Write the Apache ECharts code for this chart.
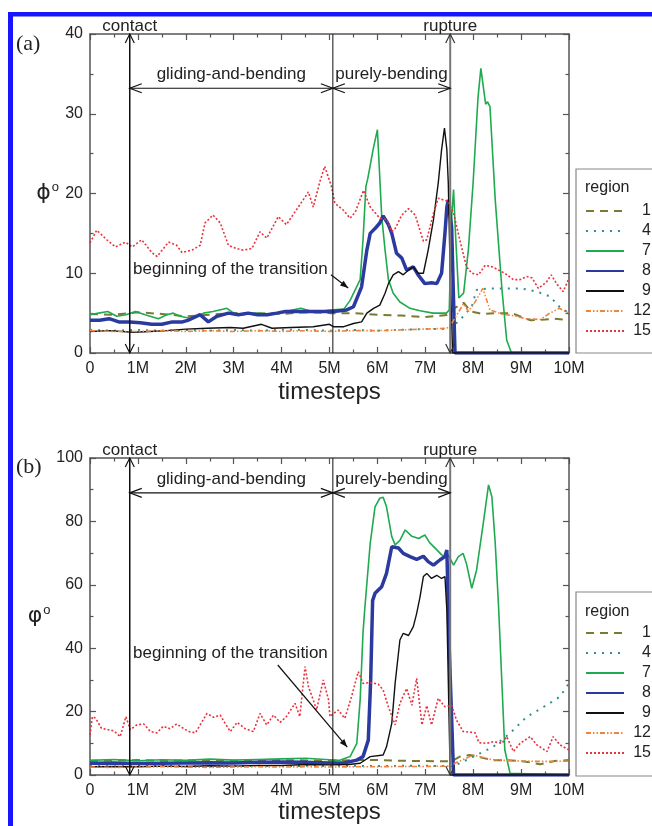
<!DOCTYPE html>
<html>
<head>
<meta charset="utf-8">
<title>phi vs timesteps</title>
<script src="https://cdn.jsdelivr.net/npm/echarts@6/dist/echarts.min.js"></script>
<style>
  html, body { margin: 0; padding: 0; background: #fff; }
  #main { width: 652px; height: 826px; }
</style>
</head>
<body>
<div id="main"></div>
<script>
// regions shown in the legend
var regions = ['1', '4', '7', '8', '9', '12', '15'];

// panel (a): phi, [timestep in M, degrees]
var a1 = [[0,4.9],[0.5,4.8],[1,5.1],[1.5,4.9],[2,4.6],[2.5,4.8],[3,5.0],[3.5,5.0],[4,4.9],[4.5,5.1],[5,5.0],[5.5,5.0],[6,4.8],[6.5,4.7],[7,4.5],[7.5,4.8],[7.6,5.6],[7.8,6.3],[7.95,5.2],[8.2,4.9],[8.5,5.0],[8.8,5.0],[9.2,4.1],[9.5,4.2],[9.7,4.3],[10,4.1]];
var a4 = [[0,2.9],[0.5,2.8],[1,2.9],[1.5,2.8],[2,2.9],[2.5,2.8],[3,2.9],[3.5,2.8],[4,2.9],[4.5,2.9],[5,2.8],[5.5,2.9],[6,2.8],[6.5,2.9],[7,3.0],[7.5,3.0],[7.72,4.1],[7.85,5.0],[7.97,5.8],[8.07,7.9],[8.3,8.1],[8.6,8.1],[9.0,8.1],[9.33,7.7],[9.6,7.1],[9.8,5.8],[10,5.0]];
var a7 = [[0,4.8],[0.18,5.0],[0.37,5.2],[0.56,4.6],[0.75,4.8],[0.95,5.2],[1.15,4.8],[1.43,4.3],[1.6,4.8],[1.74,5.0],[1.88,4.6],[2.13,4.3],[2.37,5.0],[2.57,5.2],[2.86,5.6],[3.0,5.0],[3.2,4.8],[3.45,5.0],[3.7,4.9],[4.0,5.1],[4.4,5.6],[4.7,5.1],[5.0,5.4],[5.3,5.5],[5.43,6.6],[5.64,9.2],[5.7,14.2],[5.76,20.9],[5.8,21.9],[5.91,25.5],[6.0,28.0],[6.09,17.1],[6.16,12.9],[6.23,9.2],[6.33,7.5],[6.47,6.4],[6.68,5.6],[6.89,5.3],[7.16,5.0],[7.44,5.0],[7.5,5.4],[7.55,17.0],[7.59,20.5],[7.63,15.0],[7.7,6.9],[7.8,7.5],[7.9,13.0],[8.0,21.5],[8.1,32.0],[8.16,35.7],[8.22,33.0],[8.26,31.2],[8.3,31.5],[8.35,30.9],[8.46,19.2],[8.6,8.0],[8.7,1.6],[8.8,0],[10,0]];
var a8 = [[0,4.1],[0.2,4.1],[0.4,4.3],[0.6,3.9],[0.83,3.9],[1.05,3.8],[1.29,3.6],[1.5,3.6],[1.72,3.9],[1.93,3.9],[2.04,4.1],[2.3,4.8],[2.47,3.9],[2.65,4.6],[2.89,5.0],[3.1,4.8],[3.3,5.0],[3.5,4.8],[3.7,4.8],[3.9,5.0],[4.08,5.2],[4.3,5.2],[4.6,5.2],[5.08,5.2],[5.36,5.4],[5.5,5.8],[5.67,8.3],[5.78,12.9],[5.85,15.0],[5.95,15.6],[6.05,16.3],[6.12,17.2],[6.23,16.1],[6.3,15.0],[6.4,12.5],[6.51,11.9],[6.61,10.4],[6.75,10.8],[6.85,9.8],[6.99,8.7],[7.13,8.8],[7.24,8.7],[7.34,10.0],[7.41,15.0],[7.45,18.3],[7.48,19.2],[7.55,15.8],[7.59,6.6],[7.62,0],[10,0]];
var a9 = [[0,2.7],[0.4,2.8],[0.9,2.6],[1.25,2.7],[1.6,2.8],[2.0,3.0],[2.45,3.1],[2.93,3.2],[3.2,3.1],[3.58,3.6],[3.8,3.1],[4.2,3.2],[4.66,3.3],[5.0,3.6],[5.08,3.3],[5.3,3.3],[5.5,3.7],[5.67,3.9],[5.78,5.0],[5.92,5.6],[6.05,6.0],[6.16,7.5],[6.23,8.7],[6.33,9.8],[6.44,10.2],[6.54,9.8],[6.65,10.4],[6.75,10.8],[6.85,10.0],[6.96,10.0],[7.06,12.9],[7.17,16.7],[7.27,21.3],[7.34,25.5],[7.4,28.2],[7.45,25.5],[7.48,21.3],[7.52,10.0],[7.57,0],[10,0]];
var a12 = [[0,2.8],[0.5,2.7],[1,2.7],[1.5,2.8],[2,2.7],[2.5,2.8],[3,2.7],[3.5,2.8],[4,2.7],[4.5,2.8],[5,2.7],[5.5,2.8],[6,2.8],[6.5,2.9],[7,3.0],[7.45,3.1],[7.55,3.7],[7.8,6.2],[7.9,5.2],[8.05,6.5],[8.2,8.1],[8.35,5.4],[8.6,4.9],[8.9,4.6],[9.1,4.3],[9.4,4.2],[9.6,5.0],[9.8,5.6],[10,5.0]];
var a15 = [[0,13.8],[0.14,15.4],[0.35,14.2],[0.53,13.3],[0.74,13.9],[0.88,13.3],[1.08,14.2],[1.29,12.6],[1.4,12.1],[1.64,13.9],[1.81,13.5],[1.92,12.6],[2.13,12.9],[2.3,13.5],[2.4,16.3],[2.57,17.3],[2.72,16.3],[2.89,13.5],[3.06,13.1],[3.2,12.9],[3.38,13.1],[3.55,15.2],[3.69,14.4],[3.93,17.1],[4.1,16.1],[4.28,17.7],[4.45,19.2],[4.56,20.2],[4.66,18.3],[4.8,21.5],[4.9,23.4],[5.04,20.9],[5.11,18.8],[5.29,17.9],[5.43,16.9],[5.54,17.7],[5.71,20.4],[5.85,18.3],[6.05,16.9],[6.2,16.7],[6.3,15.2],[6.37,15.6],[6.51,17.3],[6.65,18.1],[6.79,17.3],[6.96,14.0],[7.03,14.2],[7.17,17.5],[7.27,19.4],[7.48,19.0],[7.59,17.5],[7.72,14.2],[7.86,10.8],[7.97,10.0],[8.11,9.8],[8.25,11.0],[8.4,10.8],[8.66,10.0],[8.84,9.2],[8.98,9.2],[9.12,9.6],[9.23,9.4],[9.36,8.1],[9.53,8.9],[9.63,9.8],[9.74,8.7],[9.88,7.7],[10,9.4]];

// panel (b): varphi
var b1 = [[0,4.5],[0.5,4.6],[1,4.7],[1.5,4.5],[2,4.6],[2.5,4.7],[3,4.5],[3.5,4.6],[4,4.7],[4.5,4.6],[5,4.5],[5.5,4.7],[6,4.7],[6.5,4.5],[7,4.4],[7.55,4.3],[7.72,5.8],[7.93,6.3],[8.4,4.7],[8.8,4.6],[9.1,4.2],[9.4,3.4],[9.7,4.4],[10,4.7]];
var b4 = [[0,2.8],[0.5,2.7],[1,2.8],[1.5,2.9],[2,2.8],[2.5,2.7],[3,2.8],[3.5,2.9],[4,2.8],[4.5,2.9],[5,2.8],[5.5,2.9],[6,2.8],[6.5,2.9],[7,2.9],[7.55,2.8],[7.72,3.7],[8.07,6.3],[8.42,8.9],[8.77,13.2],[9.12,18.4],[9.54,22.1],[9.81,24.7],[10,28.9]];
var b7 = [[0,4.6],[0.5,4.9],[1,4.5],[1.5,4.8],[2,4.6],[2.5,5.0],[3,4.7],[3.5,4.9],[4,5.1],[4.5,5.3],[5,4.8],[5.2,4.6],[5.43,5.8],[5.57,10.0],[5.64,23.7],[5.7,45.0],[5.74,53.1],[5.85,73.1],[5.95,84.6],[6.05,87.3],[6.12,87.6],[6.19,84.6],[6.3,75.2],[6.37,72.6],[6.47,74.0],[6.58,77.3],[6.72,75.3],[6.86,74.6],[6.99,75.7],[7.09,73.3],[7.24,71.0],[7.38,68.9],[7.48,69.4],[7.59,66.2],[7.69,68.9],[7.79,69.9],[7.86,66.6],[7.97,58.9],[8.07,64.6],[8.21,79.4],[8.32,91.5],[8.39,87.8],[8.46,73.1],[8.53,53.0],[8.66,7.9],[8.77,0.5],[8.8,0],[10,0]];
var b8 = [[0,3.7],[0.5,3.8],[1,3.6],[1.5,3.7],[2,3.8],[2.5,3.9],[3,3.8],[3.5,4.0],[4,4.1],[4.5,4.0],[5,3.8],[5.3,3.8],[5.57,4.7],[5.7,5.8],[5.81,11.0],[5.86,30.0],[5.9,55.0],[5.95,57.3],[6.09,59.4],[6.19,63.6],[6.3,72.0],[6.44,71.6],[6.54,69.9],[6.68,68.9],[6.82,68.0],[6.96,69.0],[7.06,67.3],[7.17,66.2],[7.31,67.9],[7.41,68.9],[7.45,71.0],[7.5,40.0],[7.59,0],[10,0]];
var b9 = [[0,2.6],[0.5,2.7],[1,2.6],[1.5,2.8],[2,2.7],[2.5,2.9],[3,2.8],[3.5,3.0],[4,3.0],[4.5,3.3],[5,3.2],[5.4,3.3],[5.64,3.7],[5.85,5.8],[6.12,6.3],[6.19,8.9],[6.3,16.3],[6.37,28.9],[6.47,42.6],[6.54,44.7],[6.65,44.0],[6.75,46.8],[6.82,51.0],[6.89,56.2],[6.96,62.6],[7.03,63.6],[7.13,62.0],[7.24,63.0],[7.34,62.0],[7.41,62.6],[7.45,52.0],[7.52,0],[10,0]];
var b12 = [[0,2.5],[0.5,2.4],[1,2.5],[1.5,2.6],[2,2.5],[2.5,2.4],[3,2.5],[3.5,2.6],[4,2.5],[4.5,2.6],[5,2.5],[5.5,2.6],[6,2.6],[6.5,2.7],[7,2.7],[7.5,2.8],[7.66,4.0],[8.0,6.3],[8.4,4.8],[8.8,4.5],[9.3,4.3],[9.7,4.3],[10,4.4]];
var b15 = [[0,12.6],[0.05,18.4],[0.12,17.9],[0.24,14.7],[0.38,14.3],[0.5,13.9],[0.63,12.1],[0.75,18.4],[0.84,14.3],[0.98,15.8],[1.12,16.1],[1.26,13.7],[1.4,13.3],[1.53,15.4],[1.67,14.6],[1.81,16.1],[1.92,15.0],[2.06,13.7],[2.2,13.3],[2.3,15.8],[2.44,19.4],[2.58,18.2],[2.72,18.9],[2.82,16.3],[2.93,13.7],[3.07,16.6],[3.24,14.6],[3.41,13.7],[3.55,19.4],[3.69,15.8],[3.83,18.9],[3.97,16.6],[4.1,18.4],[4.28,22.6],[4.38,18.4],[4.49,34.2],[4.56,27.9],[4.66,23.7],[4.73,20.5],[4.87,30.0],[4.98,23.7],[5.01,18.4],[5.18,20.5],[5.32,17.9],[5.46,24.7],[5.6,32.6],[5.7,28.9],[5.85,29.2],[6.02,28.6],[6.12,26.8],[6.23,21.5],[6.37,15.8],[6.47,22.6],[6.61,27.3],[6.72,22.0],[6.82,30.5],[6.93,15.8],[7.03,21.9],[7.13,15.8],[7.27,24.2],[7.41,21.5],[7.55,22.0],[7.65,17.4],[7.79,13.7],[7.95,13.5],[8.04,13.3],[8.12,10.2],[8.28,10.0],[8.42,10.5],[8.6,10.0],[8.7,12.1],[8.84,7.4],[8.98,10.0],[9.19,12.1],[9.33,9.5],[9.54,7.4],[9.67,12.1],[9.81,9.5],[10,7.9]];

var panelA = [a1, a4, a7, a8, a9, a12, a15];
var panelB = [b1, b4, b7, b8, b9, b12, b15];

var styles = {
    '1':  { color: '#7a7a32', width: 2,   type: [8, 6] },
    '4':  { color: '#2f8f8f', width: 2,   type: [2, 6] },
    '7':  { color: '#1faa4f', width: 1.6, type: 'solid' },
    '8':  { color: '#2b3a9e', width: 3.5, type: 'solid' },
    '9':  { color: '#111111', width: 1.4, type: 'solid' },
    '12': { color: '#f0843a', width: 1.6, type: [5, 2, 1.5, 2, 1.5, 2] },
    '15': { color: '#e8323c', width: 1.6, type: [2, 2] }
};

var FONT = '"Liberation Sans", Arial, sans-serif';
var axisColor = '#555';

var chart = echarts.init(document.getElementById('main'));

function xAxisOf(g, top, gap) {
    return {
        gridIndex: g, type: 'value', min: 0, max: 10, interval: 1,
        position: top ? 'top' : 'bottom',
        axisLine: { onZero: false, lineStyle: { color: axisColor, width: 1.5 } },
        axisTick: { inside: true, length: 6, lineStyle: { color: axisColor, width: 1.2 } },
        minorTick: { show: true, splitNumber: 2, length: 3.5, lineStyle: { color: axisColor, width: 1.2 } },
        splitLine: { show: false },
        axisLabel: {
            show: !top, fontSize: 16, color: '#222', margin: 8, fontFamily: FONT,
            formatter: function (v) { return v === 0 ? '0' : v + 'M'; }
        },
        name: top ? '' : 'timesteps', nameLocation: 'middle', nameGap: gap || 27,
        nameTextStyle: { fontSize: 24, color: '#222', fontFamily: FONT }
    };
}

function yAxisOf(g, right, max, interval, sym) {
    return {
        gridIndex: g, type: 'value', min: 0, max: max, interval: interval,
        position: right ? 'right' : 'left',
        axisLine: { onZero: false, lineStyle: { color: axisColor, width: 1.5 } },
        axisTick: { inside: true, length: 6, lineStyle: { color: axisColor, width: 1.2 } },
        minorTick: { show: true, splitNumber: 2, length: 3.5, lineStyle: { color: axisColor, width: 1.2 } },
        splitLine: { show: false },
        axisLabel: { show: !right, fontSize: 16, color: '#222', margin: 7, fontFamily: FONT },
        name: right ? '' : '{p|' + sym + '}{s|o}',
        nameLocation: 'middle', nameGap: 31, nameRotate: 0,
        nameTextStyle: {
            color: '#222', fontFamily: FONT,
            rich: {
                p: { fontSize: 22, color: '#222', fontFamily: 'DejaVu Sans' },
                s: { fontSize: 13, color: '#222', padding: [0, 0, 12, 1], fontFamily: FONT }
            }
        }
    };
}

var series = [];
[panelA, panelB].forEach(function (panel, g) {
    panel.forEach(function (data, i) {
        var st = styles[regions[i]];
        series.push({
            name: regions[i], type: 'line',
            xAxisIndex: g * 2, yAxisIndex: g * 2,
            data: data, symbol: 'none', showSymbol: false, animation: false,
            color: st.color,
            lineStyle: { color: st.color, width: st.width, type: st.type }
        });
    });
});

function legendOf(top) {
    return {
        data: regions, orient: 'vertical', left: 585, top: top,
        itemWidth: 38, itemHeight: 14, itemGap: 4, padding: 0,
        selectedMode: false,
        itemStyle: { opacity: 0 },
        formatter: function (n) { return '{n|' + n + '}'; },
        textStyle: {
            lineHeight: 14,
            rich: { n: { width: 22, align: 'right', fontSize: 16, lineHeight: 14, color: '#222', fontFamily: FONT } }
        }
    };
}

chart.setOption({
    backgroundColor: '#fff',
    animation: false,
    grid: [
        { left: 90, top: 34, width: 479, height: 319 },
        { left: 90, top: 458, width: 479, height: 317 }
    ],
    xAxis: [xAxisOf(0, false, 27), xAxisOf(0, true), xAxisOf(1, false, 23), xAxisOf(1, true)],
    yAxis: [
        yAxisOf(0, false, 40, 10, 'ϕ'), yAxisOf(0, true, 40, 10),
        yAxisOf(1, false, 100, 20, 'φ'), yAxisOf(1, true, 100, 20)
    ],
    legend: [legendOf(203), legendOf(625)],
    series: series
});

// annotations: phase arrows, labels, frame
function chev(x, y, dir, color, w) {
    var a = 9, b = 4.5, pts;
    if (dir === 'up') pts = [[x - b, y + a], [x, y], [x + b, y + a]];
    else if (dir === 'down') pts = [[x - b, y - a], [x, y], [x + b, y - a]];
    else if (dir === 'left') pts = [[x + a + 3, y - b], [x, y], [x + a + 3, y + b]];
    else pts = [[x - a - 3, y - b], [x, y], [x - a - 3, y + b]];
    return { type: 'polyline', shape: { points: pts }, style: { stroke: color, lineWidth: w || 1.2, fill: null }, z: 10 };
}
function seg(p, q, color, w) {
    return { type: 'line', shape: { x1: p[0], y1: p[1], x2: q[0], y2: q[1] }, style: { stroke: color, lineWidth: w }, z: 10 };
}
function txt(s, x, y, size, align, font) {
    return {
        type: 'text', x: x, y: y, z: 11,
        style: { text: s, fill: '#222', font: size + 'px ' + (font || FONT), align: align || 'center', verticalAlign: 'middle' }
    };
}

var els = [];
function annot(g, ymax, vArrow, tText, vText, arrFrom, arrTo, label, labelY) {
    var P = function (t, v) { return chart.convertToPixel({ xAxisIndex: g * 2, yAxisIndex: g * 2 }, [t, v]); };
    var xs = [0.83, 5.07, 7.52];
    var b0 = P(xs[0], 0), t0 = P(xs[0], ymax);
    els.push(seg(b0, t0, '#111', 1.5), chev(t0[0], t0[1], 'up', '#111'), chev(b0[0], b0[1], 'down', '#111'));
    var b1 = P(xs[1], 0), t1 = P(xs[1], ymax);
    els.push(seg(b1, t1, '#111', 1));
    var b2 = P(xs[2], 0), t2 = P(xs[2], ymax);
    els.push(seg(b2, t2, '#777', 2), chev(t2[0], t2[1], 'up', '#333'), chev(b2[0], b2[1], 'down', '#333'));
    var h0 = P(xs[0], vArrow), h1 = P(xs[1], vArrow), h2 = P(xs[2], vArrow);
    els.push(seg(h0, h1, '#111', 1.2), chev(h0[0], h0[1], 'left', '#111'), chev(h1[0], h1[1], 'right', '#111'));
    els.push(seg(h1, h2, '#111', 1.2), chev(h1[0], h1[1], 'left', '#111'), chev(h2[0], h2[1], 'right', '#111'));
    els.push(txt('contact', t0[0], t0[1] - 8, 17));
    els.push(txt('rupture', t2[0], t2[1] - 8, 17));
    els.push(txt('gliding-and-bending', (h0[0] + h1[0]) / 2, h0[1] - 14, 17));
    els.push(txt('purely-bending', (h1[0] + h2[0]) / 2, h0[1] - 14, 17));
    var tp = P(tText, vText);
    els.push(txt('beginning of the transition', tp[0], tp[1], 17, 'left'));
    var f = P(arrFrom[0], arrFrom[1]), e = P(arrTo[0], arrTo[1]);
    els.push(seg(f, e, '#111', 1.2));
    var ang = Math.atan2(e[1] - f[1], e[0] - f[0]), L = 8, W = 3;
    var bx = e[0] - L * Math.cos(ang), by = e[1] - L * Math.sin(ang);
    els.push({
        type: 'polygon', z: 10,
        shape: { points: [[e[0], e[1]], [bx - W * Math.sin(ang), by + W * Math.cos(ang)], [bx + W * Math.sin(ang), by - W * Math.cos(ang)]] },
        style: { fill: '#111' }
    });
    els.push(txt(label, 16, labelY, 22, 'left', '"Liberation Serif", "Times New Roman", serif'));
}
annot(0, 40, 33.2, 0.9, 10.5, [5.03, 9.8], [5.39, 8.15], '(a)', 44);
annot(1, 100, 89, 0.9, 38.5, [3.92, 34.7], [5.37, 8.8], '(b)', 467);

// legend frames
[[169, 184, 188], [592, 184, 612]].forEach(function (b) {
    els.push({ type: 'rect', z: 1, shape: { x: 576, y: b[0], width: 100, height: b[1] }, style: { fill: null, stroke: '#888', lineWidth: 1.2 } });
    els.push(txt('region', 585, b[2], 16, 'left'));
});

// blue page frame
els.push({ type: 'rect', z: 20, shape: { x: 8, y: 12, width: 644, height: 4.5 }, style: { fill: '#1515ff' } });
els.push({ type: 'rect', z: 20, shape: { x: 8, y: 12, width: 5, height: 814 }, style: { fill: '#1515ff' } });

chart.setOption({ graphic: { elements: els } });
</script>
</body>
</html>
